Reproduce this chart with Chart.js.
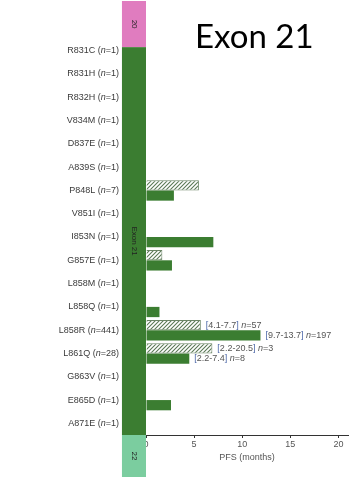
<!DOCTYPE html>
<html>
<head>
<meta charset="utf-8">
<script src="https://cdn.jsdelivr.net/npm/chart.js@4/dist/chart.umd.min.js"></script>
<style>
html, body { margin: 0; padding: 0; background: #fff; }
canvas { display: block; }
</style>
</head>
<body>
<canvas id="pfsChart" width="349" height="477"></canvas>
<script>
// Exon 21 point mutations, top to bottom
var mutations = ['R831C', 'R831H', 'R832H', 'V834M', 'D837E', 'A839S', 'P848L', 'V851I',
    'I853N', 'G857E', 'L858M', 'L858Q', 'L858R', 'L861Q', 'G863V', 'E865D', 'A871E'];
var patientCounts = [1, 1, 1, 1, 1, 1, 7, 1, 1, 1, 1, 1, 441, 28, 1, 1, 1];

// PFS in months: hatched (upper) bars and solid (lower) bars
var pfsHatched = [null, null, null, null, null, null, 5.5, null, null, 1.7, null, null, 5.7, 6.9, null, null, null];
var pfsSolid   = [null, null, null, null, null, null, 2.9, null, 7.0, 2.7, null, 1.4, 11.9, 4.5, null, 2.6, null];

// Median range annotations next to some bars
var annRow     = [12, 12, 13, 13];
var annDataset = [0, 1, 0, 1];
var annRange   = ['4.1-7.7', '9.7-13.7', '2.2-20.5', '2.2-7.4'];
var annN       = [57, 197, 3, 8];

var xTicks = [0, 5, 10, 15, 20];

var GREEN = '#3b7d31';
var PINK = '#e07cbf';
var LIGHT_GREEN = '#7bcd9f';

/**
 * Diagonal "////" fill for the hatched bars.
 */
function _makeHatch(ctx) {
    var c = document.createElement('canvas');
    c.width = 4; c.height = 4;
    var g = c.getContext('2d');
    g.fillStyle = '#fff';
    g.fillRect(0, 0, 4, 4);
    g.strokeStyle = '#5a7855';
    g.lineWidth = 1.1;
    g.beginPath();
    g.moveTo(0, 4); g.lineTo(4, 0);
    g.moveTo(-1, 1); g.lineTo(1, -1);
    g.moveTo(3, 5); g.lineTo(5, 3);
    g.stroke();
    return ctx.createPattern(c, 'repeat');
}

/**
 * Draw text pieces left to right; pieces are [text, italic, color].
 */
function _drawPieces(ctx, pieces, x, y, size) {
    pieces.forEach(function (p) {
        ctx.font = (p[1] ? 'italic ' : '') + size + 'px "Liberation Sans", Arial, sans-serif';
        ctx.fillStyle = p[2];
        ctx.fillText(p[0], x, y);
        x += ctx.measureText(p[0]).width;
    });
}

function _piecesWidth(ctx, pieces, size) {
    var w = 0;
    pieces.forEach(function (p) {
        ctx.font = (p[1] ? 'italic ' : '') + size + 'px "Liberation Sans", Arial, sans-serif';
        w += ctx.measureText(p[0]).width;
    });
    return w;
}

// Exon strip (20 / 21 / 22) left of the zero line, plus row labels
var exonStrip = {
    id: 'exonStrip',
    beforeDatasetsDraw: function (chart) {
        var ctx = chart.ctx;
        var xs = chart.scales.x, ys = chart.scales.y;
        var left = xs.getPixelForValue(-2.5);
        var right = xs.getPixelForValue(0);
        var w = right - left;
        var exonTop = ys.getPixelForValue(-0.15);
        var bottom = chart.chartArea.bottom;
        ctx.save();
        ctx.fillStyle = PINK;
        ctx.fillRect(left, 1, w, exonTop - 1);
        ctx.fillStyle = GREEN;
        ctx.fillRect(left, exonTop, w, bottom - exonTop);
        ctx.fillStyle = LIGHT_GREEN;
        ctx.fillRect(left, bottom, w, chart.height - bottom);

        // rotated exon names
        ctx.fillStyle = '#222';
        ctx.font = '8px "Liberation Sans", Arial, sans-serif';
        ctx.textAlign = 'center';
        ctx.textBaseline = 'middle';
        [['20', (1 + exonTop) / 2], ['Exon 21', (exonTop + bottom) / 2], ['22', (bottom + chart.height) / 2]].forEach(function (t) {
            ctx.save();
            ctx.translate(left + w / 2, t[1]);
            ctx.rotate(Math.PI / 2);
            ctx.fillText(t[0], 0, 0);
            ctx.restore();
        });

        // row labels, right aligned against the strip
        ctx.textAlign = 'left';
        mutations.forEach(function (m, i) {
            var pieces = [[m + ' (', false, '#3a3a3a'], ['n', true, '#3a3a3a'], ['=' + patientCounts[i] + ')', false, '#3a3a3a']];
            var tw = _piecesWidth(ctx, pieces, 9);
            _drawPieces(ctx, pieces, left - 3 - tw, ys.getPixelForValue(i), 9);
        });

        // panel title
        ctx.font = '33px Lato, "Liberation Sans", sans-serif';
        ctx.fillStyle = '#000';
        ctx.fillText('Exon 21', 195, 37);
        ctx.restore();
    },
    afterDatasetsDraw: function (chart) {
        var ctx = chart.ctx;
        ctx.save();
        ctx.textBaseline = 'middle';
        annRow.forEach(function (row, k) {
            var el = chart.getDatasetMeta(annDataset[k]).data[row];
            var pieces = [
                ['[', false, '#4a66a8'], [annRange[k], false, '#555'], [']', false, '#4a66a8'],
                [' ', false, '#555'], ['n', true, '#555'], ['=' + annN[k], false, '#555']
            ];
            _drawPieces(ctx, pieces, el.x + 5, el.y, 9);
        });
        ctx.restore();
    }
};

var canvas = document.getElementById('pfsChart');
var hatch = _makeHatch(canvas.getContext('2d'));

new Chart(canvas, {
    type: 'bar',
    data: {
        labels: mutations,
        datasets: [{
            label: 'hatched',
            data: pfsHatched,
            backgroundColor: hatch,
            borderColor: '#6b8566',
            borderWidth: 1,
            borderSkipped: 'start',
        }, {
            label: 'solid',
            data: pfsSolid,
            backgroundColor: GREEN,
            borderWidth: 0,
        }],
    },
    options: {
        indexAxis: 'y',
        responsive: false,
        animation: false,
        categoryPercentage: 0.88,
        barPercentage: 1,
        layout: { padding: { top: 39, left: 146, right: 1, bottom: 0 } },
        plugins: {
            legend: { display: false },
            tooltip: { enabled: false },
        },
        scales: {
            y: { display: false },
            x: {
                min: 0,
                max: 21,
                afterBuildTicks: function (scale) {
                    scale.ticks = xTicks.map(function (v) { return { value: v }; });
                },
                afterFit: function (scale) { scale.height = 42; },
                border: { display: true, color: '#333', width: 1 },
                grid: { drawOnChartArea: false, drawTicks: true, tickLength: 3, color: '#333' },
                ticks: {
                    padding: 1,
                    color: '#555',
                    font: { size: 9, family: '"Liberation Sans", Arial, sans-serif' },
                },
                title: {
                    display: true,
                    text: 'PFS (months)',
                    color: '#555',
                    font: { size: 9, family: '"Liberation Sans", Arial, sans-serif' },
                    padding: { top: 4, bottom: 14 },
                },
            },
        },
    },
    plugins: [exonStrip],
});
</script>
</body>
</html>
